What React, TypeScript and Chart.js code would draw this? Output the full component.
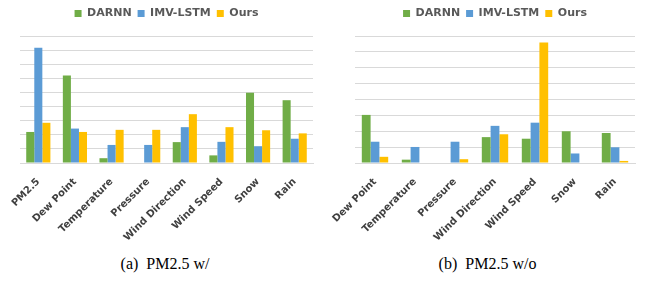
import React, { useEffect, useRef } from "react";
import { Chart, registerables } from "chart.js";

Chart.register(...registerables);

const seriesNames = ["DARNN", "IMV-LSTM", "Ours"];
const seriesColors = ["#70AD47", "#5B9BD5", "#FFC000"];

const categoriesA = ["PM2.5", "Dew Point", "Temperature", "Pressure", "Wind Direction", "Wind Speed", "Snow", "Rain"];
const darnnA = [2.2, 6.2, 0.34, 0, 1.48, 0.54, 4.98, 4.45];
const imvA = [8.17, 2.44, 1.28, 1.28, 2.54, 1.5, 1.19, 1.72];
const oursA = [2.85, 2.2, 2.35, 2.35, 3.46, 2.54, 2.32, 2.1];

const categoriesB = ["Dew Point", "Temperature", "Pressure", "Wind Direction", "Wind Speed", "Snow", "Rain"];
const darnnB = [3.03, 0.21, 0, 1.63, 1.53, 2.0, 1.89];
const imvB = [1.34, 1.01, 1.34, 2.34, 2.54, 0.6, 0.99];
const oursB = [0.39, 0, 0.24, 1.81, 7.59, 0, 0.13];

const captionA = "(a)  PM2.5 w/";
const captionB = "(b)  PM2.5 w/o";

type Props = {
  labels: string[];
  series: number[][];
  yMax: number;
  padLeft: number;
  padRight: number;
  width: number;
  height: number;
  xHeight: number;
};

const legendGap = {
  id: "legendGap",
  beforeInit(chart: any) {
    const legend = chart.legend;
    if (!legend) return;
    const orig = legend.fit;
    legend.fit = function () {
      orig.call(this);
      this.height += 7;
    };
  },
};

function BarChart({ labels, series, yMax, padLeft, padRight, width, height, xHeight }: Props) {
  const ref = useRef<HTMLCanvasElement | null>(null);
  useEffect(() => {
    if (!ref.current) return;
    const chart = new Chart(ref.current, {
      type: "bar",
      data: {
        labels,
        datasets: series.map((d, i) => ({
          label: seriesNames[i],
          data: d,
          backgroundColor: seriesColors[i],
          borderWidth: 0,
          categoryPercentage: 0.66,
          barPercentage: 1.0,
        })),
      },
      plugins: [legendGap],
      options: {
        animation: false,
        responsive: false,
        maintainAspectRatio: false,
        layout: { padding: { top: 2, left: padLeft, right: padRight, bottom: 0 } },
        plugins: {
          legend: {
            position: "top",
            labels: {
              boxWidth: 7,
              boxHeight: 7,
              padding: 6,
              color: "#595959",
              font: { family: "DejaVu Sans", size: 11, weight: "bold" },
            },
          },
          tooltip: { enabled: false },
        },
        scales: {
          x: {
            grid: { display: false },
            border: { display: true, color: "#d9d9d9" },
            ticks: {
              minRotation: 45,
              maxRotation: 45,
              autoSkip: false,
              padding: 5,
              color: "#404040",
              font: { family: "DejaVu Sans", size: 10, weight: "bold" },
            },
            afterFit: (scale: any) => {
              scale.height = xHeight;
            },
          },
          y: {
            min: 0,
            max: yMax,
            ticks: { display: false, stepSize: 1 },
            grid: { color: "#d9d9d9", drawTicks: false },
            border: { display: false },
          },
        },
      },
    });
    return () => chart.destroy();
  }, []);
  return <canvas ref={ref} width={width} height={height} style={{ width, height, display: "block" }} />;
}

export default function App() {
  return (
    <div style={{ position: "fixed", left: 0, top: 0, width: 645, height: 287, background: "#fff" }}>
      <div style={{ position: "absolute", left: 0, top: 0 }}>
        <BarChart
          labels={categoriesA}
          series={[darnnA, imvA, oursA]}
          yMax={9}
          padLeft={20}
          padRight={9}
          width={322}
          height={250}
          xHeight={87}
        />
      </div>
      <div style={{ position: "absolute", left: 322, top: 0 }}>
        <BarChart
          labels={categoriesB}
          series={[darnnB, imvB, oursB]}
          yMax={8}
          padLeft={33}
          padRight={10}
          width={323}
          height={250}
          xHeight={87}
        />
      </div>
      <div
        style={{
          position: "absolute",
          left: 0,
          width: 330,
          top: 255,
          textAlign: "center",
          fontFamily: "Liberation Serif",
          fontSize: 16,
          color: "#000",
          whiteSpace: "pre",
        }}
      >
        {captionA}
      </div>
      <div
        style={{
          position: "absolute",
          left: 330,
          width: 315,
          top: 255,
          textAlign: "center",
          fontFamily: "Liberation Serif",
          fontSize: 16,
          color: "#000",
          whiteSpace: "pre",
        }}
      >
        {captionB}
      </div>
    </div>
  );
}
